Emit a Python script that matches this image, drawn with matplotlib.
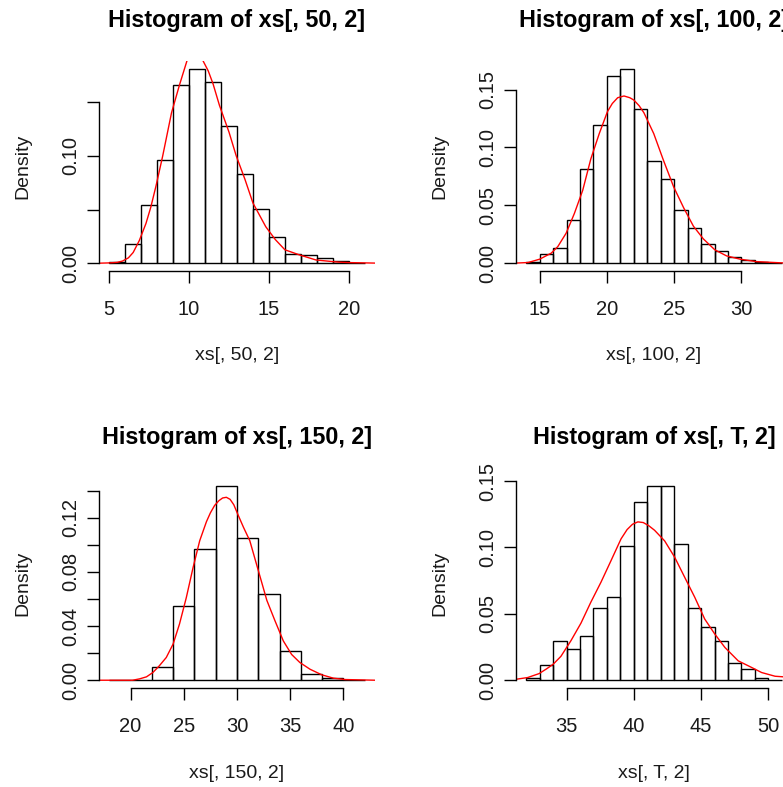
import matplotlib
matplotlib.use("Agg")
import matplotlib.pyplot as plt

plt.rcParams['font.family'] = ['Liberation Sans', 'DejaVu Sans']

# --- data ---
names = ["xs[, 50, 2]", "xs[, 100, 2]", "xs[, 150, 2]", "xs[, T, 2]"]

edges_50 = list(range(5, 22))
dens_50 = [0.0015, 0.0178, 0.054, 0.096, 0.166, 0.181, 0.169, 0.128, 0.083,
           0.0506, 0.0244, 0.0084, 0.0075, 0.0047, 0.0025, 0.0004]
kde_x_50 = [4.3, 5.0, 5.5, 5.83, 6.2, 6.5, 6.88, 7.3, 7.6, 7.93, 8.35, 8.9, 9.4,
            9.9, 10.3, 10.75, 11.2, 11.5, 11.9, 12.5, 12.95, 13.5, 14.0, 14.8,
            15.4, 16.0, 16.9, 17.95, 19.0, 19.4, 20.0, 21.7]
kde_y_50 = [0.0, 0.0003, 0.0008, 0.002, 0.005, 0.010, 0.021, 0.037, 0.052,
            0.072, 0.10, 0.140, 0.166, 0.19, 0.204, 0.192, 0.179, 0.167, 0.147,
            0.122, 0.10, 0.078, 0.056, 0.034, 0.022, 0.0125, 0.0078, 0.003,
            0.0015, 0.001, 0.0006, 0.0001]

edges_100 = list(range(14, 34))
dens_100 = [0.001, 0.0078, 0.013, 0.0375, 0.081, 0.119, 0.162, 0.168, 0.133,
            0.088, 0.073, 0.0456, 0.030, 0.017, 0.0107, 0.0052, 0.0032, 0.0012,
            0.0003]
kde_x_100 = [13.2, 14.14, 15.0, 15.86, 16.35, 16.97, 17.58, 18.2, 18.8, 19.43,
             20.04, 20.4, 20.8, 21.27, 21.7, 22.0, 22.4, 22.75, 23.48, 24.2,
             24.96, 25.7, 26.43, 27.17, 28.03, 28.9, 29.9, 31.1, 33.0, 33.8]
kde_y_100 = [0.0001, 0.0006, 0.0035, 0.0087, 0.0144, 0.026, 0.043, 0.063,
             0.090, 0.112, 0.131, 0.138, 0.143, 0.1445, 0.143, 0.141, 0.136,
             0.130, 0.112, 0.089, 0.066, 0.048, 0.032, 0.021, 0.0115, 0.0063,
             0.0035, 0.0014, 0.0003, 0.0001]

edges_150 = list(range(18, 43, 2))
dens_150 = [0.0, 0.0004, 0.0101, 0.0546, 0.0968, 0.1435, 0.1047, 0.0637,
            0.0212, 0.0047, 0.0015, 0.0002]
kde_x_150 = [17.0, 20.2, 20.85, 21.5, 22.1, 22.7, 23.36, 24.0, 24.6, 25.24,
             25.87, 26.5, 27.13, 27.5, 27.9, 28.3, 28.65, 29.0, 29.35, 29.7,
             30.1, 30.6, 31.2, 32.0, 32.8, 33.56, 34.35, 35.13, 35.9, 36.86,
             37.96, 39.06, 40.16, 43.0]
kde_y_150 = [0.0, 0.0, 0.001, 0.0025, 0.0057, 0.0106, 0.0168, 0.0267, 0.0415,
             0.061, 0.083, 0.103, 0.117, 0.1235, 0.129, 0.1325, 0.1345, 0.135,
             0.1335, 0.1295, 0.122, 0.113, 0.103, 0.081, 0.059, 0.044, 0.029,
             0.019, 0.0131, 0.0081, 0.004, 0.0015, 0.0005, 0.0]

edges_T = list(range(32, 52))
dens_T = [0.002, 0.0116, 0.0297, 0.0234, 0.033, 0.0547, 0.0625, 0.1013,
          0.134, 0.1465, 0.1465, 0.1023, 0.0547, 0.0398, 0.0297, 0.0126,
          0.0083, 0.002, 0.0003]
kde_x_T = [31.3, 32.1, 32.96, 33.5, 34.0, 34.58, 35.32, 36.07, 36.8, 37.56,
           38.3, 39.05, 39.5, 39.9, 40.3, 40.7, 41.1, 41.54, 42.29, 43.03,
           43.78, 44.53, 45.27, 46.02, 46.77, 47.76, 48.76, 49.5, 50.5, 51.2,
           52.0]
kde_y_T = [0.0008, 0.002, 0.005, 0.0085, 0.012, 0.018, 0.0297, 0.043,
           0.0587, 0.0739, 0.090, 0.1065, 0.1135, 0.1175, 0.1193, 0.1188,
           0.1165, 0.113, 0.105, 0.0928, 0.0776, 0.0625, 0.0461, 0.0348,
           0.0247, 0.0146, 0.0096, 0.0058, 0.003, 0.0025, 0.002]

xticks_all = [[5, 10, 15, 20], [15, 20, 25, 30], [20, 25, 30, 35, 40],
              [35, 40, 45, 50]]
yticks_all = [[0, 0.05, 0.10, 0.15], [0, 0.05, 0.10, 0.15],
              [0, 0.02, 0.04, 0.06, 0.08, 0.10, 0.12, 0.14],
              [0, 0.05, 0.10, 0.15]]
ylabels_all = [["0.00", "", "0.10", ""], ["0.00", "0.05", "0.10", "0.15"],
               ["0.00", "", "0.04", "", "0.08", "", "0.12", ""],
               ["0.00", "0.05", "0.10", "0.15"]]

edges_all = [edges_50, edges_100, edges_150, edges_T]
dens_all = [dens_50, dens_100, dens_150, dens_T]
kde_x_all = [kde_x_50, kde_x_100, kde_x_150, kde_x_T]
kde_y_all = [kde_y_50, kde_y_100, kde_y_150, kde_y_T]

W, H = 783, 787
fig = plt.figure(figsize=(W / 100, H / 100), dpi=100)

# plot regions in pixels: (left, top); right column runs past the image edge
lefts = [99, 516, 99, 516]
tops = [61, 61, 478, 478]
pw, ph = 276, 210
txt = '#1a1a1a'

for i in range(4):
    ax = fig.add_axes([lefts[i] / W, 1 - (tops[i] + ph) / H, pw / W, ph / H])
    edges = edges_all[i]
    dens = dens_all[i]
    widths = [edges[k + 1] - edges[k] for k in range(len(dens))]
    ax.bar(edges[:-1], dens, width=widths, align='edge', fill=False,
           edgecolor='black', linewidth=1.0)
    ax.plot(kde_x_all[i], kde_y_all[i], color='red', linewidth=1.0)

    # R style limits: range extended by 4%
    x0, x1 = edges[0], edges[-1]
    y1 = max(dens)
    ax.set_xlim(x0 - 0.04 * (x1 - x0), x1 + 0.04 * (x1 - x0))
    ax.set_ylim(-0.04 * y1, y1 * 1.04)

    xt = xticks_all[i]
    yt = yticks_all[i]
    ax.set_xticks(xt)
    ax.set_xticklabels([str(v) for v in xt])
    ax.set_yticks(yt)
    ax.set_yticklabels(ylabels_all[i], rotation=90, va='center')
    for s in ['top', 'right']:
        ax.spines[s].set_visible(False)
    ax.spines['left'].set_bounds(yt[0], yt[-1])
    ax.spines['bottom'].set_bounds(xt[0], xt[-1])
    ax.spines['left'].set_linewidth(1.0)
    ax.spines['bottom'].set_linewidth(1.0)
    ax.tick_params(direction='out', length=8.6, width=1.0, labelsize=14.5,
                   labelcolor=txt)
    ax.tick_params(axis='x', pad=12)
    ax.tick_params(axis='y', pad=5)

    ax.set_title("Histogram of " + names[i], fontsize=16.8,
                 fontweight='bold', pad=24.5)
    ax.annotate(names[i], xy=(0.5, 0), xycoords='axes fraction',
                xytext=(0, -85), textcoords='offset pixels',
                ha='center', va='center', fontsize=14, color=txt)
    ax.annotate("Density", xy=(0, 0.5), xycoords='axes fraction',
                xytext=(-76, 0), textcoords='offset pixels',
                ha='center', va='center', rotation=90, fontsize=14, color=txt)

fig.savefig("out.png", dpi=100)
